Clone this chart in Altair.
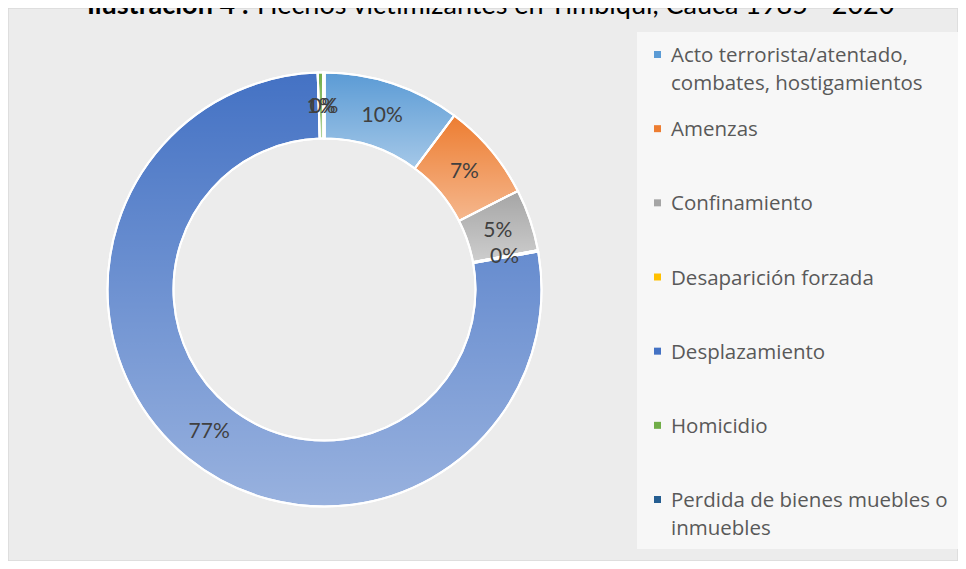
import altair as alt
import pandas as pd

# ---- data ----
categories = [
    "Acto terrorista/atentado, combates, hostigamientos",
    "Amenzas",
    "Confinamiento",
    "Desaparición forzada",
    "Desplazamiento",
    "Homicidio",
    "Perdida de bienes muebles o inmuebles",
]
shares = [10.2, 7.3, 4.6, 0.1, 77.3, 0.4, 0.1]
labels = ["10%", "7%", "5%", "0%", "77%", "1%", "0%"]
legend_lines = [
    ["Acto terrorista/atentado,", "combates, hostigamientos"],
    ["Amenzas"],
    ["Confinamiento"],
    ["Desaparición forzada"],
    ["Desplazamiento"],
    ["Homicidio"],
    ["Perdida de bienes muebles o", "inmuebles"],
]
colors = ["#5B9BD5", "#ED7D31", "#A5A5A5", "#FFC000", "#4472C4", "#70AD47", "#255E91"]
title_bold = "Ilustración 4 :"
title_rest = "Hechos victimizantes en Timbiquí, Cauca 1985 - 2020"

df = pd.DataFrame({
    "cat": categories,
    "share": shares,
    "label": labels,
    "order": list(range(len(categories))),
    "legend": ["\n".join(l) for l in legend_lines],
})

FONT = "Lato"
LFONT = "Open Sans"
base = alt.Chart(df)

color = alt.Color("cat:N", scale=alt.Scale(domain=categories, range=colors), legend=None)
theta = alt.Theta("share:Q", stack=True)
order = alt.Order("order:Q", sort="ascending")
cx, cy = alt.value(316.5), alt.value(281.5)
R_OUT, R_IN = 217, 151

arcs = base.mark_arc(outerRadius=R_OUT, innerRadius=R_IN, stroke="white", strokeWidth=2).encode(
    theta=theta, color=color, order=order, x=cx, y=cy
)

grad = alt.LinearGradient(
    gradient="linear", x1=0, y1=0, x2=0, y2=1,
    stops=[alt.GradientStop(color="rgba(255,255,255,0)", offset=0),
           alt.GradientStop(color="rgba(255,255,255,0.45)", offset=1)],
)
shade = base.mark_arc(outerRadius=R_OUT, innerRadius=R_IN, fill=grad, stroke="white", strokeWidth=2).encode(
    theta=theta, order=order, x=cx, y=cy
)

pct = base.mark_text(radius=183, fontSize=21, font=FONT, color="#404040").encode(
    theta=theta, order=order, text="label:N", x=cx, y=cy
)

# legend box (decoration)
box = alt.Chart(pd.DataFrame({"k": [0]})).mark_rect(fill="#f7f7f7").encode(
    x=alt.value(629), x2=alt.value(954), y=alt.value(24), y2=alt.value(541)
)

ly = alt.Y("cat:N", scale=alt.Scale(type="point", domain=categories, range=[54, 499], padding=0), axis=None)
squares = base.mark_square(size=49, opacity=1, yOffset=-7.5).encode(
    x=alt.value(649.5), y=ly, color=color
)
legtext = base.mark_text(align="left", baseline="alphabetic", lineBreak="\n", lineHeight=27.5,
                         fontSize=20.5, font=LFONT, color="#595959").encode(
    x=alt.value(663), y=ly, text="legend:N"
)

tdf = pd.DataFrame({"bold": [title_bold], "rest": [title_rest]})
t1 = alt.Chart(tdf).mark_text(align="left", baseline="alphabetic", fontSize=27, fontWeight="bold",
                              font=FONT, color="#000000").encode(x=alt.value(79), y=alt.value(6), text="bold:N")
t2 = alt.Chart(tdf).mark_text(align="left", baseline="alphabetic", fontSize=27,
                              font=FONT, color="#000000").encode(x=alt.value(249), y=alt.value(6), text="rest:N")

chart = alt.layer(box, arcs, shade, pct, squares, legtext, t1, t2).properties(
    width=950, height=553, padding=0,
    autosize=alt.AutoSizeParams(type="none"),
    background="white",
).configure_view(fill="#ececec", stroke="#d9d9d9", strokeWidth=1.5)

chart.save("out.html", embed_options={"renderer": "svg", "actions": False})
